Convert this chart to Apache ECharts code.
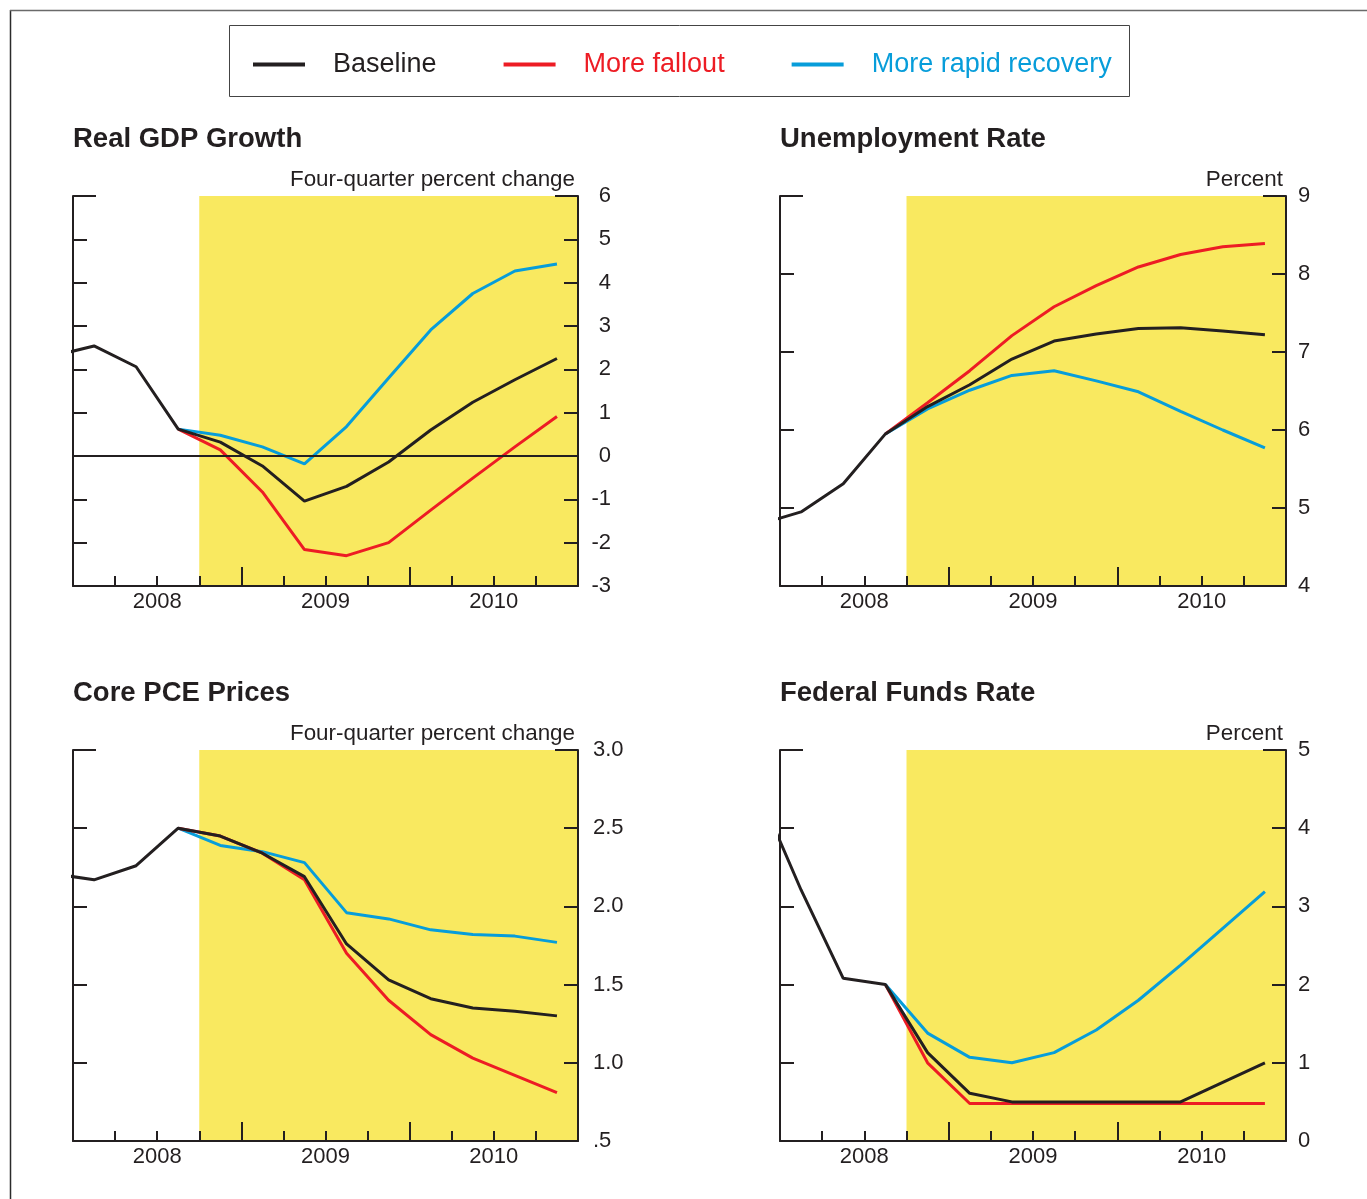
<!DOCTYPE html>
<html>
<head>
<meta charset="utf-8">
<title>Alternative scenarios</title>
<script src="https://cdn.jsdelivr.net/npm/echarts@6/dist/echarts.min.js"></script>
<style>
  html, body { margin: 0; padding: 0; background: #ffffff; }
  #chart { width: 1367px; height: 1199px; }
</style>
</head>
<body>
<div id="chart"></div>
<script>
// Quarters plotted; the first one sits half a quarter left of the visible window.
const quarters = ['2007Q4', '2008Q1', '2008Q2', '2008Q3', '2008Q4',
                  '2009Q1', '2009Q2', '2009Q3', '2009Q4',
                  '2010Q1', '2010Q2', '2010Q3', '2010Q4'];
const yearLabels = ['2008', '2009', '2010'];
const forecastStart = 3;   // shading begins at the start of 2008Q4 (quarters from 2008Q1)

const scenarioNames = ['Baseline', 'More fallout', 'More rapid recovery'];

// Real GDP growth, four-quarter percent change
const gdpBaseline = [2.30, 2.54, 2.06, 0.62, 0.32, -0.23, -1.04, -0.70, -0.14, 0.60, 1.24, 1.76, 2.25];
const gdpFallout  = [null, null, null, 0.62, 0.14, -0.83, -2.16, -2.30, -2.00, -1.25, -0.51, 0.21, 0.91];
const gdpRapid    = [null, null, null, 0.62, 0.48, 0.21, -0.18, 0.68, 1.80, 2.91, 3.75, 4.27, 4.43];
const gdpTicks    = ['-3', '-2', '-1', '0', '1', '2', '3', '4', '5', '6'];

// Unemployment rate, percent
const unBaseline = [4.79, 4.95, 5.31, 5.95, 6.30, 6.58, 6.91, 7.14, 7.23, 7.30, 7.31, 7.27, 7.22];
const unFallout  = [null, null, null, 5.95, 6.35, 6.76, 7.21, 7.58, 7.85, 8.09, 8.25, 8.35, 8.39];
const unRapid    = [null, null, null, 5.95, 6.27, 6.51, 6.70, 6.76, 6.63, 6.49, 6.24, 6.00, 5.77];
const unTicks    = ['4', '5', '6', '7', '8', '9'];

// Core PCE prices, four-quarter percent change
const pceBaseline = [2.21, 2.17, 2.26, 2.50, 2.45, 2.34, 2.19, 1.76, 1.53, 1.41, 1.35, 1.33, 1.30];
const pceFallout  = [null, null, null, 2.50, 2.45, 2.34, 2.17, 1.70, 1.40, 1.18, 1.03, 0.92, 0.81];
const pceRapid    = [null, null, null, 2.50, 2.39, 2.35, 2.28, 1.96, 1.92, 1.85, 1.82, 1.81, 1.77];
const pceTicks    = ['.5', '1.0', '1.5', '2.0', '2.5', '3.0'];

// Federal funds rate, percent
const ffBaseline = [4.46, 3.21, 2.08, 2.00, 1.13, 0.61, 0.50, 0.50, 0.50, 0.50, 0.50, 0.75, 1.00];
const ffFallout  = [null, null, null, 2.00, 1.00, 0.48, 0.48, 0.48, 0.48, 0.48, 0.48, 0.48, 0.48];
const ffRapid    = [null, null, null, 2.00, 1.38, 1.07, 1.00, 1.13, 1.42, 1.80, 2.25, 2.72, 3.19];
const ffTicks    = ['0', '1', '2', '3', '4', '5'];

const INK = '#231F20';
const RED = '#ED1C24';
const BLUE = '#079DDA';
const YELLOW = '#F9E960';
const FONT = "'Liberation Sans', Arial, Helvetica, sans-serif";

const panels = [
  { title: 'Real GDP Growth', unit: 'Four-quarter percent change',
    grid: { left: 73, top: 196, width: 505, height: 390 },
    min: -3, max: 6, interval: 1, ticks: gdpTicks, zeroLine: true,
    labelAlign: 'right', labelMargin: 33,
    data: [gdpBaseline, gdpFallout, gdpRapid] },
  { title: 'Unemployment Rate', unit: 'Percent',
    grid: { left: 780, top: 196, width: 506, height: 390 },
    min: 4, max: 9, interval: 1, ticks: unTicks,
    labelAlign: 'left', labelMargin: 12,
    data: [unBaseline, unFallout, unRapid] },
  { title: 'Core PCE Prices', unit: 'Four-quarter percent change',
    grid: { left: 73, top: 750, width: 505, height: 391 },
    min: 0.5, max: 3.0, interval: 0.5, ticks: pceTicks,
    labelAlign: 'left', labelMargin: 15,
    data: [pceBaseline, pceFallout, pceRapid] },
  { title: 'Federal Funds Rate', unit: 'Percent',
    grid: { left: 780, top: 750, width: 506, height: 391 },
    min: 0, max: 5, interval: 1, ticks: ffTicks,
    labelAlign: 'left', labelMargin: 12,
    data: [ffBaseline, ffFallout, ffRapid] }
];

// Each quarter is plotted at its midpoint; x = 0 is the start of 2008.
function toPoints(values) {
  return values
    .map((v, i) => [i - 0.5, v])
    .filter(p => p[1] !== null);
}

const grids = [];
const xAxes = [];
const yAxes = [];
const series = [];
const graphics = [];

panels.forEach((p, k) => {
  grids.push(Object.assign({ containLabel: false }, p.grid));

  // quarter ticks with year labels
  xAxes.push({
    type: 'value', gridIndex: k, position: 'bottom', min: 0, max: 12, interval: 1, z: 5,
    axisLine: { show: true, onZero: false, lineStyle: { color: INK, width: 2 } },
    axisTick: { show: true, inside: true, length: 10, lineStyle: { color: INK, width: 2 } },
    axisLabel: {
      show: true, margin: 5, color: INK, fontSize: 22, fontFamily: FONT,
      showMinLabel: true, showMaxLabel: true,
      formatter: v => (Math.round(v) % 4 === 2 ? yearLabels[(Math.round(v) - 2) / 4] : '')
    },
    splitLine: { show: false }
  });
  // taller ticks at year boundaries
  xAxes.push({
    type: 'value', gridIndex: k, position: 'bottom', min: 0, max: 12, interval: 4, z: 5,
    axisLine: { show: false, onZero: false },
    axisTick: { show: true, inside: true, length: 19, lineStyle: { color: INK, width: 2 } },
    axisLabel: { show: false },
    splitLine: { show: false }
  });

  const span = p.max - p.min;
  const baseY = {
    type: 'value', gridIndex: k, min: p.min, max: p.max, z: 5,
    splitLine: { show: false }
  };
  // left frame
  yAxes.push(Object.assign({}, baseY, {
    position: 'left', interval: p.interval,
    axisLine: { show: true, onZero: false, lineStyle: { color: INK, width: 2 } },
    axisTick: { show: true, inside: true, length: 14, lineStyle: { color: INK, width: 2 } },
    axisLabel: { show: false }
  }));
  yAxes.push(Object.assign({}, baseY, {
    position: 'left', interval: span,
    axisLine: { show: false, onZero: false },
    axisTick: { show: true, inside: true, length: 23, lineStyle: { color: INK, width: 2 } },
    axisLabel: { show: false }
  }));
  // right scale with labels
  yAxes.push(Object.assign({}, baseY, {
    position: 'right', interval: p.interval,
    axisLine: { show: true, onZero: false, lineStyle: { color: INK, width: 2 } },
    axisTick: { show: true, inside: true, length: 14, lineStyle: { color: INK, width: 2 } },
    axisLabel: {
      show: true, margin: p.labelMargin, align: p.labelAlign, color: INK, fontSize: 22, fontFamily: FONT,
      showMinLabel: true, showMaxLabel: true,
      formatter: v => p.ticks[Math.round((v - p.min) / p.interval)]
    }
  }));
  yAxes.push(Object.assign({}, baseY, {
    position: 'right', interval: span,
    axisLine: { show: false, onZero: false },
    axisTick: { show: true, inside: true, length: 23, lineStyle: { color: INK, width: 2 } },
    axisLabel: { show: false }
  }));

  const xi = k * 2;
  const yi = k * 4 + 2;
  const common = {
    type: 'line', xAxisIndex: xi, yAxisIndex: yi, showSymbol: false, symbol: 'none',
    clip: true, silent: true, animation: false
  };

  // drawn bottom to top: recovery, fallout, baseline
  const rapid = Object.assign({}, common, {
    name: scenarioNames[2], data: toPoints(p.data[2]),
    lineStyle: { color: BLUE, width: 3 }, itemStyle: { color: BLUE },
    markArea: {
      silent: true,
      itemStyle: { color: YELLOW, opacity: 1 },
      label: { show: false },
      data: [[{ xAxis: forecastStart }, { xAxis: 12 }]]
    }
  });
  if (p.zeroLine) {
    rapid.markLine = {
      silent: true, symbol: ['none', 'none'],
      label: { show: false },
      lineStyle: { color: INK, width: 2, type: 'solid' },
      data: [{ yAxis: 0 }]
    };
  }
  series.push(rapid);
  series.push(Object.assign({}, common, {
    name: scenarioNames[1], data: toPoints(p.data[1]),
    lineStyle: { color: RED, width: 3 }, itemStyle: { color: RED }
  }));
  series.push(Object.assign({}, common, {
    name: scenarioNames[0], data: toPoints(p.data[0]),
    lineStyle: { color: INK, width: 3 }, itemStyle: { color: INK }
  }));

  // panel title and unit caption
  graphics.push({
    type: 'text', x: p.grid.left, y: p.grid.top - 57,
    style: { text: p.title, font: `bold 27.5px ${FONT}`, fill: INK,
             textAlign: 'left', textVerticalAlign: 'middle' }
  });
  graphics.push({
    type: 'text', x: p.grid.left + p.grid.width - 3, y: p.grid.top - 16,
    style: { text: p.unit, font: `22.4px ${FONT}`, fill: INK,
             textAlign: 'right', textVerticalAlign: 'middle' }
  });
});

// page frame and legend box
graphics.push({
  type: 'line', shape: { x1: 10.5, y1: 10, x2: 10.5, y2: 1199 },
  style: { stroke: '#2b2b2b', lineWidth: 1.5 }
});
graphics.push({
  type: 'line', shape: { x1: 10, y1: 10.5, x2: 1367, y2: 10.5 },
  style: { stroke: '#6a6a6a', lineWidth: 1.5 }
});
graphics.push({
  type: 'rect', shape: { x: 229.5, y: 25.5, width: 900, height: 71 },
  style: { fill: 'none', stroke: '#444444', lineWidth: 1 }
});

const chart = echarts.init(document.getElementById('chart'), null, { renderer: 'canvas' });
chart.setOption({
  animation: false,
  backgroundColor: '#ffffff',
  textStyle: { fontFamily: FONT },
  grid: grids,
  xAxis: xAxes,
  yAxis: yAxes,
  series: series,
  legend: {
    left: 253, top: 51, padding: 0,
    itemWidth: 52, itemHeight: 4, itemGap: 67, icon: 'rect',
    selectedMode: false,
    textStyle: { fontSize: 27, fontFamily: FONT, padding: [0, 0, 0, 23] },
    data: [
      { name: scenarioNames[0], textStyle: { color: INK } },
      { name: scenarioNames[1], textStyle: { color: RED } },
      { name: scenarioNames[2], textStyle: { color: BLUE } }
    ]
  },
  graphic: { elements: graphics }
});
</script>
</body>
</html>
